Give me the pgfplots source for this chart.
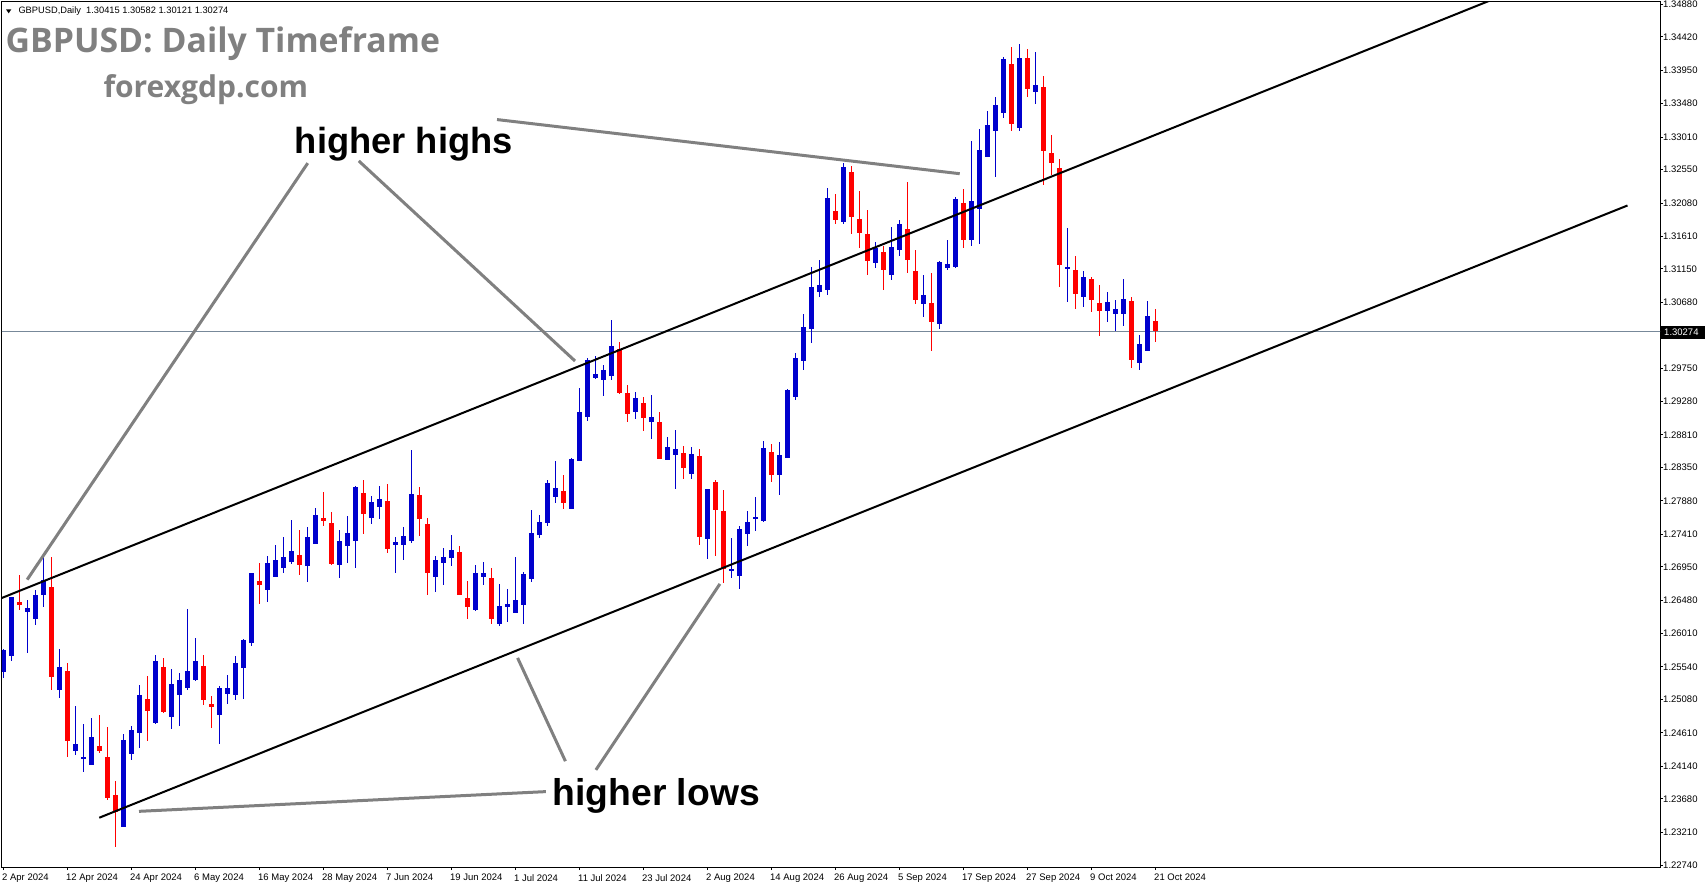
\documentclass[border=0pt]{standalone}
\usepackage{fontspec}
\setmainfont{Liberation Sans}
\newfontfamily\titlefont{Open Sans}
\usepackage{pgfplots}
\pgfplotsset{compat=1.18}
\usepackage{pgfplotstable}
\definecolor{mtblue}{RGB}{0,0,205}
\definecolor{mtred}{RGB}{255,0,0}
\definecolor{anngray}{RGB}{128,128,128}
\definecolor{bidline}{RGB}{119,136,153}

% GBPUSD daily candles, bar index 0 = 2 Apr 2024, columns: x open high low close
\pgfplotstableread{
x o h l c
0 1.2547 1.2580 1.2539 1.2578
1 1.2569 1.2653 1.2563 1.2652
3 1.2632 1.2648 1.2574 1.2637
4 1.2622 1.2663 1.2613 1.2655
5 1.2655 1.2709 1.2639 1.2677
7 1.2521 1.2579 1.2511 1.2554
9 1.2435 1.2499 1.2430 1.2445
10 1.2425 1.2474 1.2406 1.2427
11 1.2416 1.2482 1.2416 1.2455
15 1.2329 1.2459 1.2329 1.2451
16 1.2432 1.2471 1.2423 1.2465
17 1.2461 1.2528 1.2440 1.2514
19 1.2475 1.2571 1.2474 1.2562
21 1.2484 1.2551 1.2467 1.2530
22 1.2514 1.2546 1.2471 1.2536
23 1.2525 1.2636 1.2521 1.2548
24 1.2536 1.2595 1.2534 1.2562
27 1.2487 1.2527 1.2446 1.2524
28 1.2516 1.2543 1.2502 1.2524
29 1.2514 1.2569 1.2507 1.2560
30 1.2553 1.2593 1.2509 1.2592
31 1.2588 1.2686 1.2583 1.2686
33 1.2662 1.2711 1.2645 1.2701
34 1.2681 1.2726 1.2681 1.2705
35 1.2694 1.2737 1.2686 1.2709
36 1.2702 1.2761 1.2699 1.2717
38 1.2697 1.2751 1.2674 1.2737
39 1.2728 1.2778 1.2728 1.2768
42 1.2698 1.2747 1.2680 1.2732
43 1.2725 1.2767 1.2700 1.2743
44 1.2731 1.2809 1.2694 1.2808
46 1.2764 1.2795 1.2755 1.2787
47 1.2779 1.2809 1.2762 1.2791
49 1.2726 1.2737 1.2687 1.2730
50 1.2726 1.2751 1.2705 1.2739
51 1.2732 1.2860 1.2729 1.2798
54 1.2681 1.2710 1.2659 1.2705
55 1.2700 1.2722 1.2669 1.2709
56 1.2708 1.2740 1.2697 1.2719
59 1.2635 1.2698 1.2633 1.2686
60 1.2681 1.2702 1.2670 1.2686
62 1.2615 1.2671 1.2612 1.2640
63 1.2639 1.2664 1.2618 1.2643
64 1.2630 1.2709 1.2630 1.2649
65 1.2641 1.2688 1.2615 1.2685
66 1.2678 1.2776 1.2674 1.2743
67 1.2740 1.2768 1.2736 1.2758
68 1.2757 1.2818 1.2753 1.2814
69 1.2794 1.2845 1.2785 1.2806
71 1.2777 1.2848 1.2777 1.2847
72 1.2845 1.2948 1.2845 1.2913
73 1.2907 1.2989 1.2901 1.2986
74 1.2962 1.2993 1.2960 1.2967
75 1.2959 1.2979 1.2936 1.2972
76 1.2964 1.3043 1.2959 1.3006
79 1.2914 1.2941 1.2904 1.2933
81 1.2899 1.2937 1.2876 1.2906
83 1.2846 1.2878 1.2846 1.2864
84 1.2853 1.2888 1.2805 1.2861
86 1.2826 1.2864 1.2819 1.2855
88 1.2735 1.2805 1.2706 1.2805
91 1.2689 1.2736 1.2680 1.2692
92 1.2683 1.2753 1.2664 1.2749
93 1.2742 1.2774 1.2725 1.2758
94 1.2762 1.2794 1.2746 1.2766
95 1.2760 1.2873 1.2759 1.2863
97 1.2825 1.2871 1.2797 1.2853
98 1.2849 1.2946 1.2848 1.2945
99 1.2934 1.2997 1.2930 1.2990
100 1.2985 1.3052 1.2973 1.3033
101 1.3031 1.3118 1.3010 1.3090
102 1.3082 1.3128 1.3075 1.3092
103 1.3085 1.3229 1.3079 1.3215
105 1.3181 1.3265 1.3178 1.3259
109 1.3124 1.3153 1.3117 1.3145
111 1.3106 1.3174 1.3099 1.3146
112 1.3142 1.3184 1.3134 1.3179
115 1.3066 1.3107 1.3048 1.3079
117 1.3038 1.3126 1.3031 1.3125
118 1.3117 1.3156 1.3113 1.3122
119 1.3118 1.3217 1.3116 1.3214
121 1.3156 1.3296 1.3148 1.3211
122 1.3200 1.3312 1.3151 1.3283
123 1.3273 1.3338 1.3273 1.3318
124 1.3309 1.3358 1.3245 1.3346
125 1.3335 1.3414 1.3328 1.3411
127 1.3314 1.3432 1.3310 1.3413
129 1.3365 1.3421 1.3347 1.3374
133 1.3116 1.3173 1.3068 1.3118
135 1.3075 1.3112 1.3062 1.3104
138 1.3056 1.3083 1.3040 1.3069
139 1.3052 1.3071 1.3028 1.3059
140 1.3051 1.3101 1.3034 1.3073
142 1.2983 1.3022 1.2972 1.3009
143 1.2999 1.3070 1.2999 1.3049
}\upbars

\pgfplotstableread{
x o h l c
2 1.2646 1.2684 1.2634 1.2642
6 1.2667 1.2709 1.2521 1.2540
8 1.2548 1.2559 1.2427 1.2449
12 1.2443 1.2487 1.2433 1.2436
13 1.2427 1.2470 1.2366 1.2370
14 1.2373 1.2394 1.2301 1.2350
18 1.2509 1.2542 1.2450 1.2492
20 1.2554 1.2566 1.2489 1.2490
25 1.2555 1.2571 1.2501 1.2507
26 1.2502 1.2513 1.2468 1.2497
32 1.2675 1.2701 1.2643 1.2670
37 1.2712 1.2747 1.2684 1.2698
40 1.2764 1.2801 1.2753 1.2760
41 1.2757 1.2772 1.2698 1.2699
45 1.2799 1.2818 1.2742 1.2769
48 1.2788 1.2812 1.2715 1.2721
52 1.2796 1.2808 1.2738 1.2762
53 1.2756 1.2764 1.2656 1.2687
57 1.2716 1.2725 1.2655 1.2656
58 1.2651 1.2675 1.2622 1.2638
61 1.2679 1.2694 1.2615 1.2621
70 1.2802 1.2824 1.2777 1.2785
77 1.3002 1.3012 1.2939 1.2940
78 1.2940 1.2951 1.2899 1.2911
80 1.2926 1.2934 1.2887 1.2905
82 1.2900 1.2913 1.2847 1.2847
85 1.2855 1.2865 1.2819 1.2835
87 1.2851 1.2862 1.2726 1.2737
89 1.2815 1.2817 1.2710 1.2776
90 1.2774 1.2804 1.2672 1.2692
96 1.2857 1.2868 1.2815 1.2824
104 1.3197 1.3221 1.3178 1.3184
106 1.3252 1.3260 1.3165 1.3188
107 1.3186 1.3225 1.3144 1.3166
108 1.3165 1.3198 1.3107 1.3127
110 1.3139 1.3148 1.3086 1.3113
113 1.3172 1.3238 1.3109 1.3128
114 1.3112 1.3142 1.3066 1.3071
116 1.3067 1.3110 1.3000 1.3041
120 1.3208 1.3228 1.3144 1.3156
126 1.3404 1.3428 1.3310 1.3320
128 1.3413 1.3425 1.3357 1.3368
130 1.3372 1.3387 1.3234 1.3282
131 1.3279 1.3304 1.3247 1.3264
132 1.3258 1.3270 1.3090 1.3121
134 1.3114 1.3134 1.3058 1.3080
136 1.3101 1.3104 1.3054 1.3071
137 1.3067 1.3093 1.3020 1.3056
141 1.3070 1.3076 1.2975 1.2987
144 1.30415 1.30582 1.30121 1.30274
}\downbars

\pgfplotsset{
  wick/.style={draw=none, mark=none, forget plot,
    error bars/.cd, y dir=both, y explicit, error mark=none,
    error bar style={line width=1pt, draw=#1}},
  body/.style={draw=none, mark=none, forget plot,
    error bars/.cd, y dir=both, y explicit, error mark=none,
    error bar style={line width=5pt, draw=#1}},
}

\begin{document}
\begin{tikzpicture}
\path[use as bounding box] (0,0) rectangle (1705pt,-888pt);
\begin{axis}[
    at={(2pt,-2pt)}, anchor=north west,
    scale only axis, width=1658pt, height=865pt,
    xmin=-0.1875, xmax=207.0625,
    ymin=1.227203, ymax=1.349133,
    axis line style={line width=1pt},
    tick align=outside, major tick length=3pt,
    tick style={black, line width=1pt},
    xtick pos=left, ytick pos=right, yticklabel pos=right,
    xtick={0,8,...,144},
    xticklabels={2 Apr 2024,12 Apr 2024,24 Apr 2024,6 May 2024,16 May 2024,28 May 2024,7 Jun 2024,19 Jun 2024,1 Jul 2024,11 Jul 2024,23 Jul 2024,2 Aug 2024,14 Aug 2024,26 Aug 2024,5 Sep 2024,17 Sep 2024,27 Sep 2024,9 Oct 2024,21 Oct 2024},
    ytick={1.22740,1.23210,1.23680,1.24140,1.24610,1.25080,1.25540,1.26010,1.26480,1.26950,1.27410,1.27880,1.28350,1.28810,1.29280,1.29750,1.30210,1.30680,1.31150,1.31610,1.32080,1.32550,1.33010,1.33480,1.33950,1.34420,1.34880},
    yticklabels={1.22740,1.23210,1.23680,1.24140,1.24610,1.25080,1.25540,1.26010,1.26480,1.26950,1.27410,1.27880,1.28350,1.28810,1.29280,1.29750,1.30210,1.30680,1.31150,1.31610,1.32080,1.32550,1.33010,1.33480,1.33950,1.34420,1.34880},
    ticklabel style={font=\fontsize{9.5pt}{11pt}\selectfont},
    xticklabel style={anchor=north west, inner sep=0pt, xshift=-1.5pt, yshift=-4pt},
    yticklabel style={anchor=west, inner sep=0pt},
]
% bid line
\addplot[bidline, line width=1pt, forget plot] coordinates {(-1,1.30274) (210,1.30274)};

% candles
\addplot[wick=mtblue] table[x=x, y expr=(\thisrow{h}+\thisrow{l})/2, y error expr=(\thisrow{h}-\thisrow{l})/2] {\upbars};
\addplot[body=mtblue] table[x=x, y expr=(\thisrow{o}+\thisrow{c})/2, y error expr=(\thisrow{c}-\thisrow{o})/2] {\upbars};
\addplot[wick=mtred] table[x=x, y expr=(\thisrow{h}+\thisrow{l})/2, y error expr=(\thisrow{h}-\thisrow{l})/2] {\downbars};
\addplot[body=mtred] table[x=x, y expr=(\thisrow{o}+\thisrow{c})/2, y error expr=(\thisrow{o}-\thisrow{c})/2] {\downbars};

% channel
\addplot[black, line width=2pt] coordinates {(-1,1.26477) (195,1.35350)};
\addplot[black, line width=2pt] coordinates {(11.97,1.23415) (203.0,1.32045)};

% pointers
\addplot[anngray, line width=3pt] coordinates {(38.03,1.32642) (2.96,1.26771)};
\addplot[anngray, line width=3pt] coordinates {(44.41,1.32673) (71.44,1.29853)};
\addplot[anngray, line width=3pt] coordinates {(61.69,1.33256) (119.53,1.32493)};
\addplot[anngray, line width=3pt] coordinates {(70.24,1.24212) (64.26,1.25668)};
\addplot[anngray, line width=3pt] coordinates {(74.05,1.24089) (89.55,1.26711)};
\addplot[anngray, line width=3pt] coordinates {(67.8,1.23783) (16.94,1.23505)};
\end{axis}

% current price box
\fill[black] (1661pt,-326.2pt) rectangle (1705pt,-339.3pt);
\node[anchor=west, inner sep=0pt, text=white, font=\fontsize{9.5pt}{11pt}\selectfont] at (1664pt,-332.7pt) {1.30274};

% header
\fill[black] (6pt,-9.3pt) -- (11.3pt,-9.3pt) -- (8.65pt,-13.3pt) -- cycle;
\node[anchor=base west, inner sep=0pt, font=\fontsize{9.3pt}{11pt}\selectfont] at (18.3pt,-13.3pt) {GBPUSD,Daily\ \ 1.30415 1.30582 1.30121 1.30274};

\node[anchor=base west, inner sep=0pt, text=anngray, font=\titlefont\bfseries\fontsize{33.8pt}{38pt}\selectfont] at (5.4pt,-52.5pt) {GBPUSD: Daily Timeframe};
\node[anchor=base west, inner sep=0pt, text=anngray, font=\titlefont\bfseries\fontsize{30pt}{34pt}\selectfont] at (103.3pt,-98pt) {forexgdp.com};

\node[anchor=base west, inner sep=0pt, font=\bfseries\fontsize{36.3pt}{40pt}\selectfont] at (294.7pt,-153.3pt) {higher highs};
\node[anchor=base west, inner sep=0pt, font=\bfseries\fontsize{37.3pt}{41pt}\selectfont] at (552.4pt,-805.8pt) {higher lows};
\end{tikzpicture}
\end{document}
